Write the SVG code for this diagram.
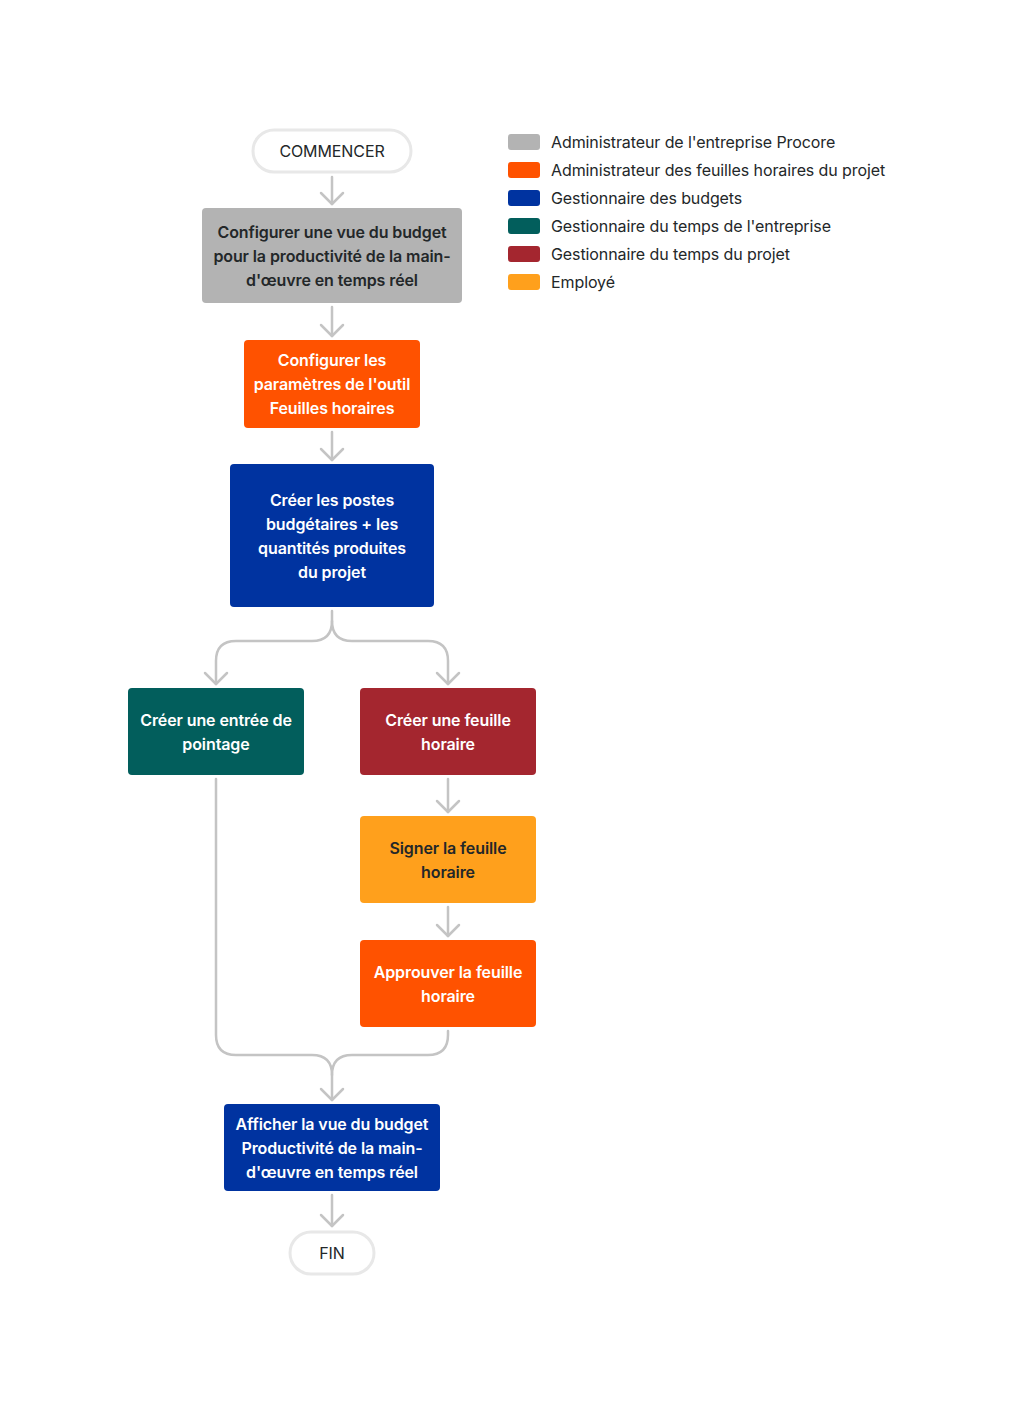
<svg xmlns="http://www.w3.org/2000/svg" width="1014" height="1404" viewBox="0 0 1014 1404">
<style>
.t{font-family:Inter,"Liberation Sans",sans-serif;font-size:16px;font-weight:600;text-anchor:middle;dominant-baseline:central;letter-spacing:-0.1px}
.w{fill:#ffffff}
.d{fill:#232729}
.p{font-family:Inter,"Liberation Sans",sans-serif;font-size:16px;font-weight:400;text-anchor:middle;dominant-baseline:central;fill:#232729;letter-spacing:-0.1px}
.l{font-family:Inter,"Liberation Sans",sans-serif;font-size:16px;font-weight:400;dominant-baseline:central;fill:#232729;letter-spacing:-0.1px}
.c{fill:none;stroke:#c4c4c4;stroke-width:2.5;stroke-linecap:round;stroke-linejoin:round}
.pill{fill:#ffffff;stroke:#e8e8e8;stroke-width:3}
</style>
<defs>
<marker id="a" markerUnits="userSpaceOnUse" markerWidth="30" markerHeight="30" viewBox="-15 -15 30 30" refX="0" refY="0" orient="auto" overflow="visible">
<path d="M-11,-11 L0,0 L-11,11" fill="none" stroke="#c4c4c4" stroke-width="2.5" stroke-linecap="round" stroke-linejoin="round"/>
</marker>
</defs>
<rect width="1014" height="1404" fill="#ffffff"/>

<g id="connectors">
<path class="c" d="M332,177 L332,204" marker-end="url(#a)"/>
<path class="c" d="M332,307 L332,336" marker-end="url(#a)"/>
<path class="c" d="M332,432 L332,460" marker-end="url(#a)"/>
<path class="c" d="M332,611 L332,621 Q332,641 312,641 L236,641 Q216,641 216,661 L216,684" marker-end="url(#a)"/>
<path class="c" d="M332,621 Q332,641 352,641 L428,641 Q448,641 448,661 L448,684" marker-end="url(#a)"/>
<path class="c" d="M448,779 L448,812" marker-end="url(#a)"/>
<path class="c" d="M448,907 L448,936" marker-end="url(#a)"/>
<path class="c" d="M216,779 L216,1035 Q216,1055 236,1055 L312,1055 Q332,1055 332,1075 L332,1100" marker-end="url(#a)"/>
<path class="c" d="M448,1031 L448,1035 Q448,1055 428,1055 L352,1055 Q332,1055 332,1075"/>
<path class="c" d="M332,1195 L332,1226" marker-end="url(#a)"/>
</g>

<g id="start">
<rect class="pill" x="253" y="130" width="158" height="42" rx="21"/>
<text class="p" x="332" y="151">COMMENCER</text>
</g>

<g id="n1">
<rect x="202" y="208" width="260" height="95" rx="4" fill="#b3b3b3"/>
<text class="t d" x="332" y="232">Configurer une vue du budget</text>
<text class="t d" x="332" y="256">pour la productivité de la main-</text>
<text class="t d" x="332" y="280">d'œuvre en temps réel</text>
</g>

<g id="n2">
<rect x="244" y="340" width="176" height="88" rx="4" fill="#ff5200"/>
<text class="t w" x="332" y="360">Configurer les</text>
<text class="t w" x="332" y="384">paramètres de l'outil</text>
<text class="t w" x="332" y="408">Feuilles horaires</text>
</g>

<g id="n3">
<rect x="230" y="464" width="204" height="143" rx="4" fill="#0033a0"/>
<text class="t w" x="332" y="500">Créer les postes</text>
<text class="t w" x="332" y="524">budgétaires + les</text>
<text class="t w" x="332" y="548">quantités produites</text>
<text class="t w" x="332" y="572">du projet</text>
</g>

<g id="n4">
<rect x="128" y="688" width="176" height="87" rx="4" fill="#025e5c"/>
<text class="t w" x="216" y="720">Créer une entrée de</text>
<text class="t w" x="216" y="744">pointage</text>
</g>

<g id="n5">
<rect x="360" y="688" width="176" height="87" rx="4" fill="#a4262f"/>
<text class="t w" x="448" y="720">Créer une feuille</text>
<text class="t w" x="448" y="744">horaire</text>
</g>

<g id="n6">
<rect x="360" y="816" width="176" height="87" rx="4" fill="#ffa01c"/>
<text class="t d" x="448" y="848">Signer la feuille</text>
<text class="t d" x="448" y="872">horaire</text>
</g>

<g id="n7">
<rect x="360" y="940" width="176" height="87" rx="4" fill="#ff5200"/>
<text class="t w" x="448" y="972">Approuver la feuille</text>
<text class="t w" x="448" y="996">horaire</text>
</g>

<g id="n8">
<rect x="224" y="1104" width="216" height="87" rx="4" fill="#0033a0"/>
<text class="t w" x="332" y="1124">Afficher la vue du budget</text>
<text class="t w" x="332" y="1148">Productivité de la main-</text>
<text class="t w" x="332" y="1172">d'œuvre en temps réel</text>
</g>

<g id="end">
<rect class="pill" x="290" y="1232" width="84" height="42" rx="21"/>
<text class="p" x="332" y="1253">FIN</text>
</g>

<g id="legend">
<rect x="508" y="134" width="32" height="16" rx="3" fill="#b3b3b3"/>
<text class="l" x="551" y="142">Administrateur de l'entreprise Procore</text>
<rect x="508" y="162" width="32" height="16" rx="3" fill="#ff5200"/>
<text class="l" x="551" y="170">Administrateur des feuilles horaires du projet</text>
<rect x="508" y="190" width="32" height="16" rx="3" fill="#0033a0"/>
<text class="l" x="551" y="198">Gestionnaire des budgets</text>
<rect x="508" y="218" width="32" height="16" rx="3" fill="#025e5c"/>
<text class="l" x="551" y="226">Gestionnaire du temps de l'entreprise</text>
<rect x="508" y="246" width="32" height="16" rx="3" fill="#a4262f"/>
<text class="l" x="551" y="254">Gestionnaire du temps du projet</text>
<rect x="508" y="274" width="32" height="16" rx="3" fill="#ffa01c"/>
<text class="l" x="551" y="282">Employé</text>
</g>
</svg>
